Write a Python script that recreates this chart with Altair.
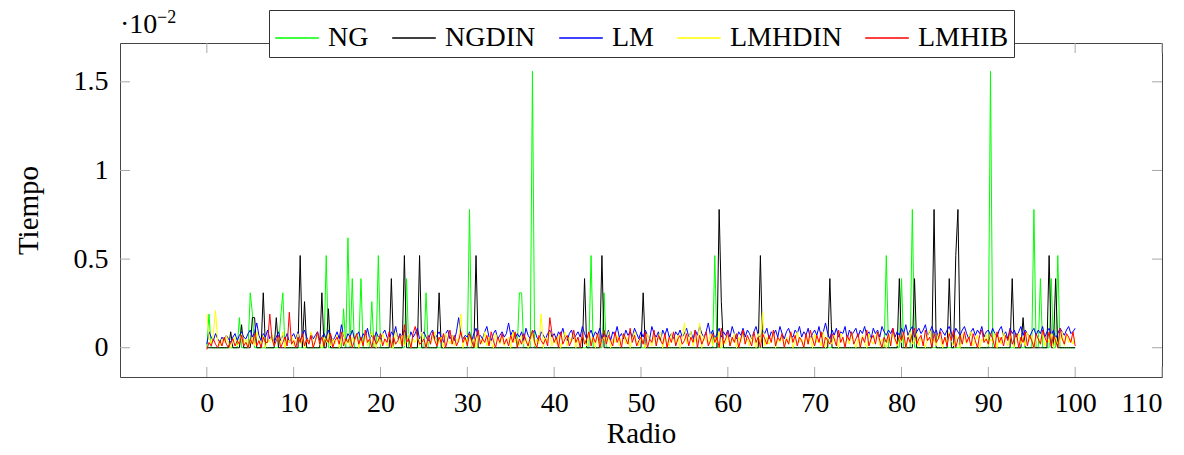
import altair as alt
import pandas as pd

FONT = "'Liberation Serif', 'DejaVu Serif', serif"
SERIES = ["NG", "NGDIN", "LM", "LMHDIN", "LMHIB"]
COLORS = ["#00ff00", "#000000", "#0000ff", "#ffff00", "#ff0000"]

STEP = 0.25
N = 401  # radio 0 .. 100

# Spikes of NG (radio, tiempo in 1e-2 s); zero elsewhere
NG_X = [0.25, 3.75, 5.0, 5.25, 8.5, 8.75, 13.75, 15.75, 16.25, 16.75, 17.75, 19.0, 19.75,
        23.0, 25.25, 30.25, 36.0, 36.25, 37.5, 44.25, 45.75, 58.5, 78.25, 80.0, 81.25,
        90.25, 95.25, 96.0, 97.25, 98.0]
NG_Y = [0.19, 0.17, 0.31, 0.19, 0.17, 0.31, 0.52, 0.22, 0.62, 0.39, 0.39, 0.26, 0.52,
        0.39, 0.31, 0.78, 0.31, 0.31, 1.56, 0.52, 0.31, 0.52, 0.52, 0.39, 0.78,
        1.56, 0.78, 0.39, 0.39, 0.52]

# Spikes of NGDIN
NGDIN_X = [2.75, 4.0, 5.25, 5.5, 6.5, 8.0, 10.75, 11.25, 13.25, 14.0, 21.25, 22.75, 24.5,
           26.75, 31.0, 43.5, 45.5, 50.25, 59.0, 59.25, 63.75, 71.75, 79.75, 81.5, 83.75,
           85.5, 86.25, 86.5, 92.75, 94.0, 97.0, 97.75]
NGDIN_Y = [0.09, 0.13, 0.17, 0.17, 0.31, 0.17, 0.52, 0.26, 0.31, 0.22, 0.39, 0.52, 0.52,
           0.31, 0.52, 0.39, 0.52, 0.31, 0.78, 0.26, 0.52, 0.39, 0.39, 0.39, 0.78,
           0.39, 0.52, 0.78, 0.39, 0.17, 0.52, 0.39]

# LM, LMHDIN, LMHIB in hundredths of the axis unit (1e-4 s), radio step 0.25
LM = [
    2, 9, 6, 4, 8, 5, 3, 6, 4, 7, 5, 3, 6, 8, 4, 7, 9, 6, 5, 8,
    10, 6, 9, 14, 7, 4, 8, 6, 10, 5, 7, 3, 6, 9, 4, 7, 5, 8, 3, 6,
    8, 5, 9, 4, 7, 10, 6, 3, 8, 5, 7, 9, 4, 6, 8, 5, 10, 7, 4, 6,
    9, 5, 13, 7, 4, 8, 6, 10, 5, 7, 9, 4, 8, 6, 11, 5, 7, 4, 9, 6,
    5, 8, 10, 6, 4, 9, 7, 12, 5, 8, 6, 10, 7, 4, 9, 6, 8, 11, 5, 7,
    9, 6, 4, 8, 10, 5, 7, 9, 6, 3, 8, 10, 5, 7, 4, 9, 17, 8, 5, 7,
    6, 9, 4, 8, 11, 6, 7, 5, 9, 12, 6, 4, 8, 10, 5, 7, 9, 6, 8, 14,
    7, 10, 5, 8, 6, 9, 4, 11, 7, 5, 8, 10, 6, 4, 9, 7, 5, 8, 10, 6,
    8, 5, 9, 7, 11, 6, 4, 8, 10, 5, 7, 9, 6, 12, 8, 5, 7, 10, 6, 9,
    7, 11, 5, 8, 6, 10, 4, 9, 7, 12, 6, 8, 5, 10, 7, 9, 6, 11, 8, 5,
    9, 6, 10, 7, 5, 12, 8, 6, 9, 4, 10, 7, 11, 6, 8, 5, 9, 7, 10, 6,
    8, 11, 6, 9, 5, 10, 7, 12, 8, 6, 9, 14, 7, 10, 5, 8, 11, 6, 9, 7,
    10, 6, 12, 8, 5, 9, 7, 11, 6, 10, 8, 5, 9, 12, 7, 6, 10, 8, 11, 5,
    9, 7, 10, 6, 12, 8, 5, 9, 11, 7, 6, 10, 8, 12, 6, 9, 7, 11, 5, 8,
    10, 7, 12, 6, 9, 14, 8, 5, 10, 7, 11, 6, 9, 8, 12, 5, 10, 7, 9, 11,
    6, 10, 8, 12, 7, 9, 5, 11, 8, 10, 6, 12, 9, 7, 10, 8, 11, 6, 9, 7,
    11, 8, 13, 7, 10, 12, 6, 9, 11, 8, 10, 13, 7, 9, 12, 8, 10, 6, 11, 9,
    7, 10, 12, 8, 6, 11, 9, 7, 10, 12, 8, 5, 9, 11, 7, 10, 8, 12, 6, 9,
    10, 7, 11, 8, 6, 10, 12, 7, 9, 5, 11, 8, 10, 6, 9, 12, 7, 10, 8, 6,
    9, 11, 7, 10, 8, 12, 6, 9, 11, 7, 10, 5, 8, 11, 9, 7, 10, 12, 8, 9,
    11,
]
LMHDIN = [
    19, 6, 2, 8, 21, 4, 1, 5, 3, 7, 2, 0, 4, 6, 1, 3, 8, 2, 5, 0,
    3, 6, 1, 9, 4, 2, 7, 0, 5, 3, 8, 1, 4, 6, 2, 9, 0, 5, 3, 7,
    1, 4, 8, 2, 6, 0, 5, 3, 9, 1, 4, 7, 2, 0, 6, 3, 8, 1, 5, 2,
    7, 0, 4, 9, 2, 5, 1, 6, 3, 8, 0, 4, 2, 7, 1, 5, 9, 3, 0, 6,
    2, 8, 4, 1, 6, 3, 0, 9, 5, 2, 7, 1, 4, 8, 0, 5, 3, 6, 1, 9,
    4, 0, 7, 2, 5, 9, 1, 3, 6, 0, 8, 4, 2, 7, 1, 5, 3, 19, 0, 6,
    3, 8, 1, 5, 0, 7, 4, 2, 9, 1, 6, 3, 0, 8, 5, 2, 7, 1, 4, 6,
    0, 9, 3, 5, 1, 7, 2, 6, 0, 4, 8, 1, 5, 2, 19, 0, 6, 3, 9, 1,
    5, 2, 7, 0, 4, 9, 1, 6, 3, 8, 0, 5, 2, 7, 4, 1, 9, 3, 6, 0,
    8, 1, 4, 6, 2, 9, 0, 5, 3, 7, 1, 4, 8, 2, 6, 0, 5, 9, 3, 1,
    6, 3, 0, 8, 4, 1, 7, 2, 5, 9, 0, 6, 3, 1, 8, 4, 2, 7, 0, 5,
    14, 2, 6, 9, 1, 5, 3, 14, 0, 7, 4, 2, 8, 1, 6, 3, 9, 0, 5, 2,
    7, 1, 4, 8, 0, 6, 3, 9, 2, 5, 1, 7, 4, 0, 8, 3, 20, 1, 6, 2,
    4, 9, 0, 5, 3, 7, 1, 6, 2, 8, 0, 4, 9, 3, 5, 1, 7, 2, 6, 0,
    8, 3, 5, 1, 9, 0, 6, 4, 2, 7, 3, 0, 8, 5, 1, 6, 2, 9, 4, 0,
    5, 1, 7, 3, 0, 8, 4, 2, 6, 9, 1, 5, 3, 0, 7, 2, 8, 4, 1, 6,
    3, 7, 0, 5, 9, 2, 4, 8, 1, 6, 3, 0, 7, 10, 2, 5, 1, 8, 4, 0,
    6, 2, 9, 4, 1, 7, 3, 0, 8, 5, 2, 6, 9, 1, 4, 7, 0, 5, 3, 8,
    1, 5, 3, 8, 0, 6, 2, 9, 4, 1, 7, 3, 0, 5, 8, 2, 6, 1, 9, 4,
    7, 0, 4, 6, 2, 9, 1, 5, 3, 8, 0, 6, 2, 4, 9, 1, 7, 3, 5, 2,
    6,
]
LMHIB = [
    -1, 3, 1, 5, 2, 0, 4, 1, 6, 2, 0, 3, 5, 1, 4, 2, 7, 1, 3, 0,
    5, 2, 8, 1, 4, 0, 6, 3, 3, 19, 5, 1, 4, 7, 0, 3, 6, 1, 20, 2,
    4, 0, 6, 3, 8, 1, 5, 2, 7, 0, 4, 9, 2, 6, 1, 5, 3, 8, 0, 4,
    6, 2, 9, 1, 5, 3, 7, 0, 4, 8, 2, 6, 1, 10, 3, 5, 0, 7, 2, 4,
    8, 1, 5, 3, 9, 0, 6, 2, 4, 7, 1, 13, 3, 5, 0, 8, 12, 6, 2, 3,
    5, 0, 7, 2, 9, 4, 1, 6, 3, 8, 0, 5, 10, 2, 7, 1, 4, 9, 3, 6,
    1, 8, 4, 0, 6, 10, 2, 5, 3, 7, 1, 9, 4, 0, 6, 3, 8, 2, 5, 1,
    7, 3, 9, 0, 5, 2, 8, 4, 1, 6, 10, 3, 0, 7, 4, 2, 5, 1, 17, 8,
    3, 6, 0, 9, 2, 5, 7, 1, 4, 10, 3, 6, 0, 8, 2, 5, 9, 1, 6, 3,
    8, 0, 5, 10, 2, 7, 4, 1, 9, 3, 6, 0, 8, 5, 2, 11, 3, 7, 1, 4,
    6, 2, 9, 0, 5, 3, 10, 1, 7, 4, 2, 8, 0, 6, 3, 9, 1, 5, 7, 2,
    4, 8, 1, 6, 3, 10, 0, 7, 2, 5, 9, 1, 4, 8, 3, 6, 0, 11, 2, 5,
    9, 1, 6, 3, 8, 0, 5, 10, 2, 7, 4, 1, 9, 3, 6, 0, 8, 5, 2, 7,
    3, 10, 1, 6, 4, 8, 0, 5, 2, 9, 3, 7, 1, 6, 4, 0, 8, 2, 10, 5,
    1, 7, 3, 9, 0, 6, 4, 2, 8, 5, 1, 10, 3, 6, 0, 7, 4, 9, 2, 5,
    8, 0, 6, 3, 10, 1, 5, 7, 2, 9, 4, 0, 6, 3, 8, 1, 11, 5, 2, 7,
    4, 9, 0, 6, 3, 8, 11, 2, 5, 7, 1, 10, 4, 6, 0, 8, 3, 5, 9, 2,
    6, 1, 8, 4, 10, 0, 5, 7, 2, 9, 3, 6, 1, 8, 4, 0, 7, 10, 3, 5,
    2, 8, 5, 0, 9, 3, 6, 1, 7, 4, 10, 2, 5, 8, 0, 6, 3, 9, 1, 7,
    4, 0, 8, 5, 2, 10, 6, 3, 9, 1, 7, 4, 0, 11, 5, 2, 8, 6, 3, 9,
    1,
]

X_TICKS = [0, 10, 20, 30, 40, 50, 60, 70, 80, 90, 100, 110]
Y_TICKS = [0, 0.5, 1, 1.5]

W, H = 1042, 334

radio = [i * STEP for i in range(N)]


def spikes(xs, ys):
    vals = [0.0] * N
    for xv, yv in zip(xs, ys):
        vals[int(round(xv / STEP))] = yv
    return vals


series_vals = {
    "NG": spikes(NG_X, NG_Y),
    "NGDIN": spikes(NGDIN_X, NGDIN_Y),
    "LM": [v / 100 for v in LM],
    "LMHDIN": [v / 100 for v in LMHDIN],
    "LMHIB": [v / 100 for v in LMHIB],
}

xscale = alt.Scale(domain=[-10, 110], nice=False, zero=False)
yscale = alt.Scale(domain=[-0.165, 1.719], nice=False, zero=False)
cscale = alt.Scale(domain=SERIES, range=COLORS)

legend = alt.Legend(
    title=None, orient="none", legendX=149, legendY=-33, direction="horizontal",
    columns=5, symbolType="stroke", symbolSize=1900, symbolStrokeWidth=1.5,
    labelFont=FONT, labelFontSize=28, labelColor="black", labelOffset=8,
    columnPadding=20, padding=5, strokeColor="#333333", fillColor="white",
    cornerRadius=0,
)

x_axis = alt.Axis(values=X_TICKS, format="d", labelPadding=12, titlePadding=2,
                  labelFont=FONT, titleFont=FONT)
y_axis = alt.Axis(values=Y_TICKS, format="~g", labelPadding=12, titlePadding=30,
                  labelFont=FONT, titleFont=FONT)

layers = []
for i, s in enumerate(SERIES):
    df = pd.DataFrame({"x": radio, "y": series_vals[s], "serie": s})
    enc = dict(
        x=alt.X("x:Q", scale=xscale, title="Radio", axis=x_axis),
        y=alt.Y("y:Q", scale=yscale, title="Tiempo", axis=y_axis),
        color=alt.Color("serie:N", scale=cscale, legend=legend if i == 0 else None),
        order="x:Q",
    )
    layers.append(alt.Chart(df).mark_line(strokeWidth=1, clip=True).encode(**enc))

TICK = "#a8a8a8"
xt = pd.DataFrame({"x": X_TICKS})
yt = pd.DataFrame({"y": Y_TICKS})
tick_layers = [
    alt.Chart(xt).mark_rule(color=TICK).encode(x=alt.X("x:Q", title="Radio", axis=x_axis), y=alt.value(H), y2=alt.value(H - 10)),
    alt.Chart(xt).mark_rule(color=TICK).encode(x=alt.X("x:Q", title="Radio", axis=x_axis), y=alt.value(0), y2=alt.value(10)),
    alt.Chart(yt).mark_rule(color=TICK).encode(y=alt.Y("y:Q", title="Tiempo", axis=y_axis), x=alt.value(0), x2=alt.value(10)),
    alt.Chart(yt).mark_rule(color=TICK).encode(y=alt.Y("y:Q", title="Tiempo", axis=y_axis), x=alt.value(W - 10), x2=alt.value(W)),
]

exp_df = pd.DataFrame({"t": ["·10"]})
sup_df = pd.DataFrame({"t": ["−2"]})
texts = [
    alt.Chart(exp_df).mark_text(align="left", baseline="alphabetic", font=FONT, fontSize=28,
                                color="black").encode(x=alt.value(0), y=alt.value(-10), text="t:N"),
    alt.Chart(sup_df).mark_text(align="left", baseline="alphabetic", font=FONT, fontSize=18,
                                color="black").encode(x=alt.value(37), y=alt.value(-20), text="t:N"),
]

chart = alt.layer(*tick_layers, *layers, *texts).properties(
    width=W, height=H,
    background="white",
    autosize=alt.AutoSizeParams(type="none"),
    padding={"left": 112, "top": 35, "right": 14, "bottom": 70},
    view=alt.ViewBackground(stroke="#444444", strokeWidth=1),
).configure_view(
    stroke="#444444", strokeWidth=1
).configure_axis(
    grid=False, ticks=False, domain=False,
    labelFont=FONT, labelFontSize=28, labelColor="black",
    titleFont=FONT, titleFontSize=29, titleFontWeight="normal", titleColor="black",
).configure_text(font=FONT).configure_legend(labelFont=FONT)

chart.save("out.html", embed_options={"renderer": "svg", "actions": False})
